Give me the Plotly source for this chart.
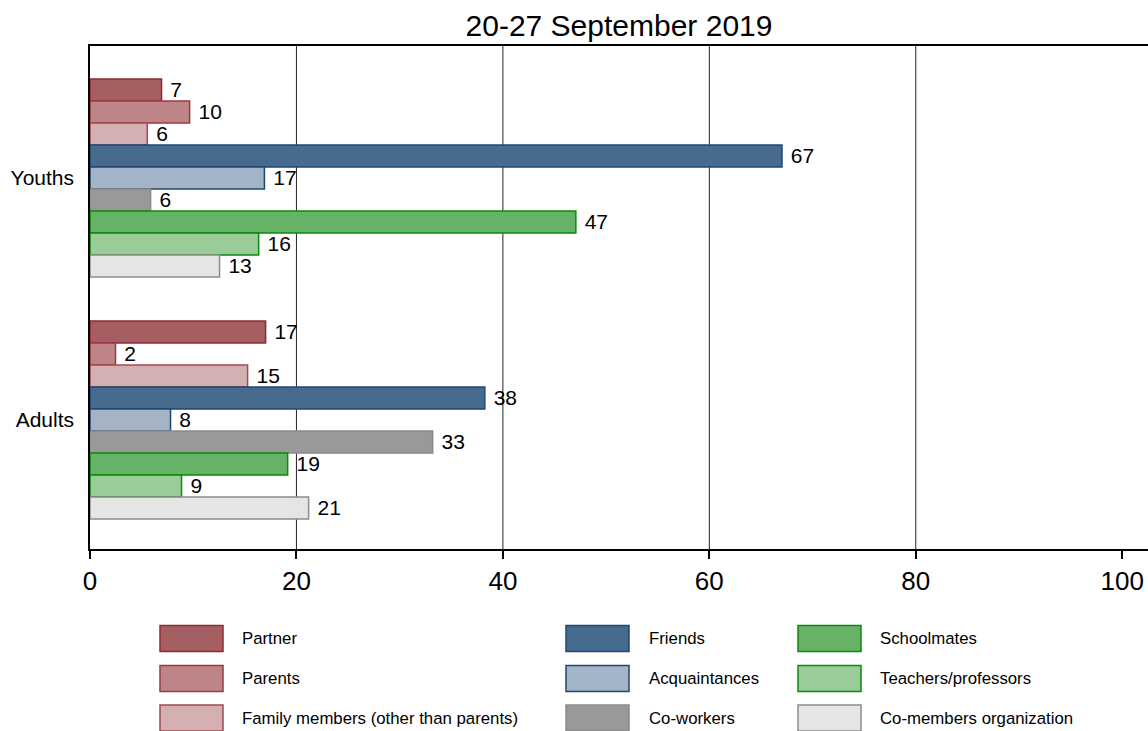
import plotly.graph_objects as go

groups = ["Youths", "Adults"]
series = ["Partner", "Parents", "Family members (other than parents)",
          "Friends", "Acquaintances", "Co-workers",
          "Schoolmates", "Teachers/professors", "Co-members organization"]
youths = [6.93, 9.65, 5.55, 67.04, 16.9, 5.87, 47.07, 16.34, 12.55]
adults = [17.01, 2.47, 15.27, 38.25, 7.8, 33.2, 19.15, 8.87, 21.18]

fills = ["#a55f63", "#bd8587", "#d4b0b2",
         "#476b8e", "#a3b4c6", "#999999",
         "#66b266", "#99cc99", "#e5e5e5"]
borders = ["#8e2a30", "#9a3a40", "#a24a50",
           "#1f4770", "#1f4770", "#8a8a8a",
           "#0a8a0a", "#0a8a0a", "#8c8c8c"]

FONT = "Arial, Liberation Sans, sans-serif"
W, H = 1148, 731
L, R, T, B = 90, 0, 46, 182
PW, PH = W - L - R, H - T - B

fig = go.Figure()
for i, name in enumerate(series):
    fig.add_trace(go.Bar(
        y=groups, x=[youths[i], adults[i]], orientation="h", name=name,
        marker=dict(color=fills[i], line=dict(color=borders[i], width=1.5)),
        texttemplate=" %{x:.0f}", textposition="outside", constraintext="none",
        textfont=dict(size=21, color="black", family=FONT), cliponaxis=False,
        showlegend=False,
    ))

def px_x(p):
    return (p - L) / PW

def px_y(p):
    return (H - B - p) / PH

shapes = []
for g in [20, 40, 60, 80]:
    shapes.append(dict(type="line", xref="x", yref="paper", x0=g, x1=g, y0=0, y1=1,
                       line=dict(color="#222222", width=1), layer="below"))

annotations = []
cols = [(160, 240), (566, 647), (798, 878)]
rows = [638.5, 678.5, 718]
for i, name in enumerate(series):
    c, r = divmod(i, 3)
    sx, tx = cols[c]
    cy = rows[r]
    shapes.append(dict(type="rect", xref="paper", yref="paper",
                       x0=px_x(sx), x1=px_x(sx + 63), y0=px_y(cy - 13), y1=px_y(cy + 13),
                       fillcolor=fills[i], line=dict(color=borders[i], width=1.5)))
    annotations.append(dict(xref="paper", yref="paper", x=px_x(tx), y=px_y(cy),
                            text=name, showarrow=False, xanchor="left", yanchor="middle",
                            font=dict(size=16.8, color="black", family=FONT)))

fig.update_layout(
    width=W, height=H,
    margin=dict(l=L, r=R, t=T, b=B, pad=0),
    paper_bgcolor="white", plot_bgcolor="white",
    barmode="group", bargap=0.182, bargroupgap=0,
    title=dict(text="20-27 September 2019", x=(L + PW / 2) / W, xanchor="center",
               y=1 - 25 / H, yanchor="middle",
               font=dict(size=30, color="black", family=FONT)),
    font=dict(family=FONT, color="black"),
    xaxis=dict(range=[0, 102.5], tickvals=[0, 20, 40, 60, 80, 100], showgrid=False,
               zeroline=False, showline=True, linecolor="black", linewidth=2, mirror=True,
               ticks="outside", ticklen=8, tickcolor="black", tickwidth=1.5,
               tickfont=dict(size=26, color="black", family=FONT)),
    yaxis=dict(categoryorder="array", categoryarray=groups, range=[1.533, -0.545],
               showgrid=False, zeroline=False, showline=True, linecolor="black", linewidth=1.5,
               ticks="", ticklabelstandoff=10,
               tickfont=dict(size=21, color="black", family=FONT)),
    shapes=shapes, annotations=annotations,
)

fig.write_html("out.html", config={"displayModeBar": False},
               post_script="document.body.style.margin='0';document.body.style.overflow='hidden';")
